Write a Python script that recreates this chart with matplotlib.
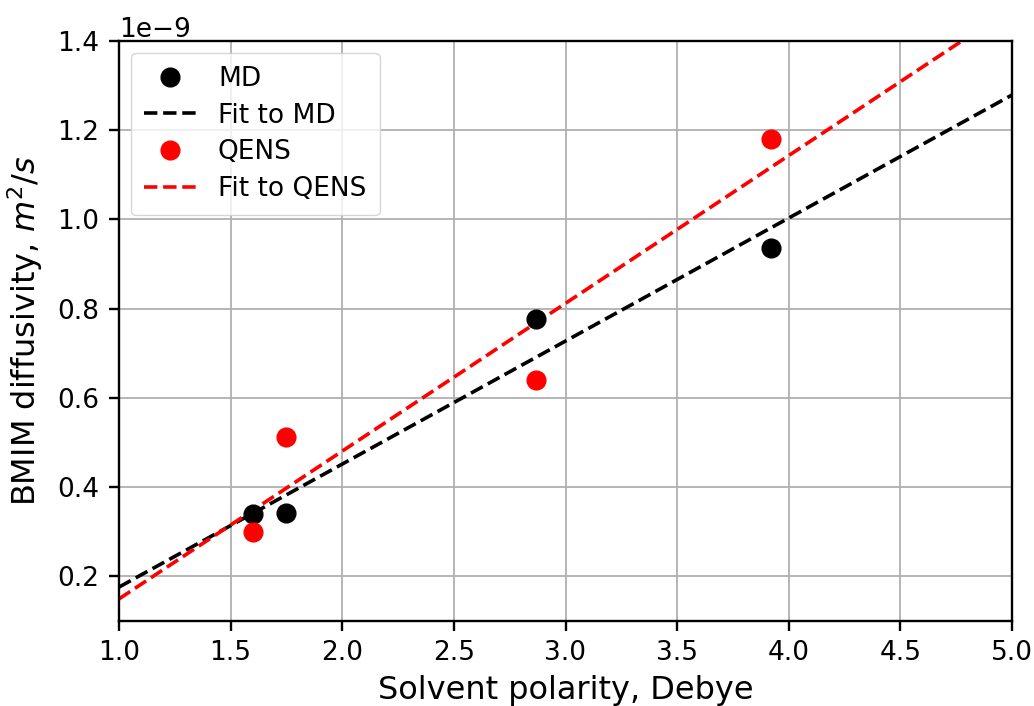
import numpy as np
import matplotlib
matplotlib.use("Agg")
import matplotlib.pyplot as plt

polarity = [1.6, 1.75, 2.87, 3.92]
md_diff = [0.340e-9, 0.343e-9, 0.777e-9, 0.937e-9]
qens_diff = [0.300e-9, 0.512e-9, 0.640e-9, 1.180e-9]

fig = plt.figure(figsize=(10.34, 7.06), dpi=100)
ax = fig.add_axes([119/1034, 1 - 621/706, (1012-119)/1034, (621-41)/706])

xfit = np.linspace(1.0, 5.0, 200)
pm = np.polyfit(polarity, md_diff, 1)
pq = np.polyfit(polarity, qens_diff, 1)

ax.plot(polarity, md_diff, 'o', color='black', markersize=13.5, label='MD', zorder=3)
ax.plot(xfit, np.polyval(pm, xfit), '--', color='black', lw=2.6, label='Fit to MD')
ax.plot(polarity, qens_diff, 'o', color='red', markersize=13.5, label='QENS', zorder=3)
ax.plot(xfit, np.polyval(pq, xfit), '--', color='red', lw=2.6, label='Fit to QENS')

ax.set_xlim(1.0, 5.0)
ax.set_ylim(0.1e-9, 1.4e-9)
ax.set_xticks(np.arange(1.0, 5.01, 0.5))
ax.set_yticks(np.arange(0.2e-9, 1.41e-9, 0.2e-9))
ax.grid(True, color='#b0b0b0', lw=1.3)
ax.set_axisbelow(True)
ax.tick_params(labelsize=19, width=1.7, length=7, pad=7)
for s in ax.spines.values():
    s.set_linewidth(1.7)
ax.yaxis.get_offset_text().set_fontsize(19)
ax.set_xlabel('Solvent polarity, Debye', fontsize=23, labelpad=6)
ax.set_ylabel('BMIM diffusivity, $m^2/s$', fontsize=23, labelpad=9)
ax.legend(loc='upper left', fontsize=19, borderpad=0.5, labelspacing=0.4,
          handlelength=2.0, borderaxespad=0.45)

fig.savefig('out.png', dpi=100)
